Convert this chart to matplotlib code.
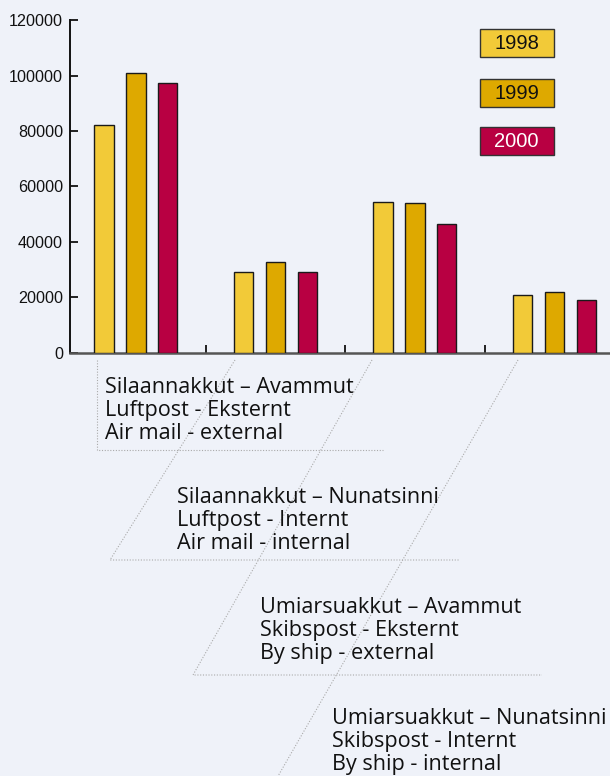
import matplotlib
matplotlib.use("Agg")
import matplotlib.pyplot as plt
from matplotlib.patches import Rectangle
from matplotlib.lines import Line2D
import numpy as np

# ---- data ----
categories = [
    "Silaannakkut – Avammut\nLuftpost - Eksternt\nAir mail - external",
    "Silaannakkut – Nunatsinni\nLuftpost - Internt\nAir mail - internal",
    "Umiarsuakkut – Avammut\nSkibspost - Eksternt\nBy ship - external",
    "Umiarsuakkut – Nunatsinni\nSkibspost - Internt\nBy ship - internal",
]
years = ["1998", "1999", "2000"]
values_1998 = [82300, 29200, 54400, 20800]
values_1999 = [101000, 32700, 53900, 22000]
values_2000 = [97200, 29200, 46400, 19100]
yticks = [0, 20000, 40000, 60000, 80000, 100000, 120000]

series = [values_1998, values_1999, values_2000]
colors = ["#F2CA38", "#DEA900", "#B80042"]
text_colors = ["#111111", "#111111", "#ffffff"]
bg = "#EFF2F9"

W, H = 610, 776
fig = plt.figure(figsize=(W / 100, H / 100), dpi=100, facecolor=bg)

def fx(px):
    return px / W

def fy(py):
    return 1 - py / H

ax = fig.add_axes([fx(70), fy(353), fx(610) - fx(70), fy(20) - fy(353)])
ax.set_facecolor(bg)

x = np.arange(len(categories))
bw = 0.138
off = 0.229
for i, (vals, c) in enumerate(zip(series, colors)):
    ax.bar(x + (i - 1) * off, vals, width=bw, color=c, edgecolor="#1a1a1a",
           linewidth=1.0, zorder=3)

ax.set_xlim(-0.4724, 3.3986)
ax.set_ylim(0, 120000)
ax.set_yticks(yticks)
ax.set_yticklabels([str(t) for t in yticks], family="Liberation Sans", fontsize=11.6,
                   color="#111111")
ax.tick_params(axis="y", direction="in", length=6, width=1.3, pad=5, color="#111111")
ax.set_xticks([])
ax.set_xticks(x[:-1] + 0.5, minor=True)
ax.tick_params(axis="x", which="minor", direction="in", length=6, width=1.3,
               color="#111111")
for s in ["top", "right"]:
    ax.spines[s].set_visible(False)
ax.spines["left"].set_color("#111111")
ax.spines["left"].set_linewidth(1.4)
ax.spines["bottom"].set_color("#555555")
ax.spines["bottom"].set_linewidth(1.8)

# ---- legend boxes ----
box_y = [29.3, 79.3, 126.7]
for yr, c, tc, by in zip(years, colors, text_colors, box_y):
    fig.patches.append(Rectangle((fx(479.5), fy(by + 28)), fx(74), fy(0) - fy(28),
                                 transform=fig.transFigure, facecolor=c,
                                 edgecolor="#333333", linewidth=1.0))
    fig.text(fx(516.5), fy(by + 14.5), yr, ha="center", va="center",
             family="Liberation Sans", fontsize=14.5, color=tc)

# ---- category labels ----
label_pos = [(105, 377), (177, 487), (260, 597), (332, 708)]
for lab, (lx, ly) in zip(categories, label_pos):
    fig.text(fx(lx), fy(ly), lab, ha="left", va="top", family="Open Sans",
             fontsize=15.6, color="#111111", linespacing=1.13)

# ---- dotted leader lines ----
leaders = [
    [(96.7, 360), (96.7, 450), (383, 450)],
    [(235, 360), (110, 560), (460, 560)],
    [(372, 360), (193, 675), (542, 675)],
    [(518, 360), (270, 790)],
]
for pts in leaders:
    xs = [fx(p[0]) for p in pts]
    ys = [fy(p[1]) for p in pts]
    fig.add_artist(Line2D(xs, ys, transform=fig.transFigure, color="#aaaaaa",
                          linestyle=(0, (1, 1.5)), linewidth=0.8))

fig.savefig("out.png", dpi=100, facecolor=bg)
